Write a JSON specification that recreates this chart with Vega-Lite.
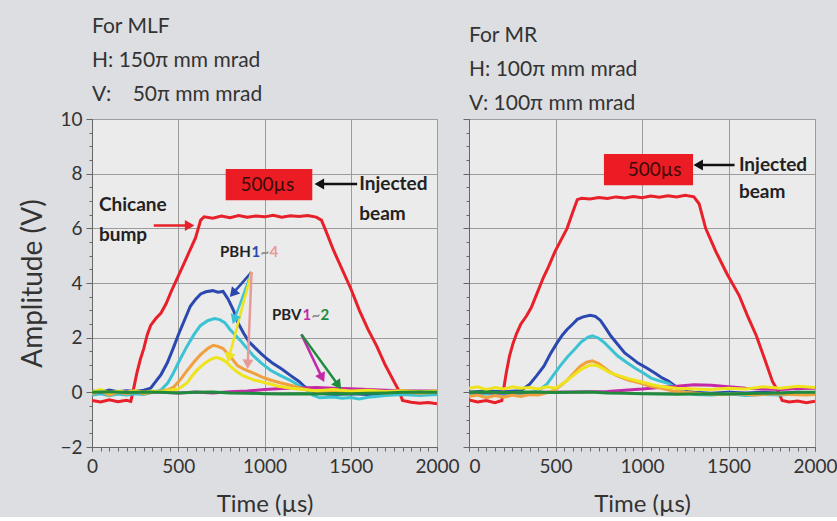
{
  "$schema": "https://vega.github.io/schema/vega-lite/v6.json",
  "background": "#dddee1",
  "padding": {"left": 19, "top": 15, "right": 0, "bottom": 0},
  "bounds": "flush",
  "spacing": 32,
  "config": {
    "view": {"fill": "#ebebeb", "stroke": "#8a8a8a", "strokeWidth": 1},
    "legend": {"disable": true},
    "font": "Lato",
    "axis": {"labelFont": "Lato", "labelFontSize": 19, "labelColor": "#333333", "titleFont": "Lato", "titleFontWeight": "normal", "titleColor": "#333333", "domainColor": "#666666", "tickColor": "#666666", "gridColor": "#9c9c9c", "labelFlush": false},
    "title": {"font": "Lato", "fontSize": 21, "fontWeight": "normal", "color": "#333333", "anchor": "start", "frame": "group", "lineHeight": 34, "offset": 5}
  },
  "datasets": {
    "mlfWave": [
      {"s":"Chicane bump","t":0,"v":-0.30},{"s":"Chicane bump","t":50,"v":-0.35},{"s":"Chicane bump","t":100,"v":-0.27},{"s":"Chicane bump","t":150,"v":-0.34},{"s":"Chicane bump","t":200,"v":-0.29},{"s":"Chicane bump","t":225,"v":-0.33},{"s":"Chicane bump","t":240,"v":0.1},{"s":"Chicane bump","t":260,"v":0.7},{"s":"Chicane bump","t":280,"v":1.2},{"s":"Chicane bump","t":300,"v":1.6},{"s":"Chicane bump","t":320,"v":2.1},{"s":"Chicane bump","t":340,"v":2.45},{"s":"Chicane bump","t":370,"v":2.7},{"s":"Chicane bump","t":400,"v":2.9},{"s":"Chicane bump","t":430,"v":3.25},{"s":"Chicane bump","t":460,"v":3.7},{"s":"Chicane bump","t":500,"v":4.25},{"s":"Chicane bump","t":550,"v":4.95},{"s":"Chicane bump","t":600,"v":5.65},{"s":"Chicane bump","t":630,"v":6.3},{"s":"Chicane bump","t":650,"v":6.42},{"s":"Chicane bump","t":700,"v":6.37},{"s":"Chicane bump","t":750,"v":6.45},{"s":"Chicane bump","t":800,"v":6.39},{"s":"Chicane bump","t":850,"v":6.47},{"s":"Chicane bump","t":900,"v":6.41},{"s":"Chicane bump","t":950,"v":6.45},{"s":"Chicane bump","t":1000,"v":6.42},{"s":"Chicane bump","t":1050,"v":6.48},{"s":"Chicane bump","t":1100,"v":6.41},{"s":"Chicane bump","t":1150,"v":6.46},{"s":"Chicane bump","t":1200,"v":6.43},{"s":"Chicane bump","t":1250,"v":6.47},{"s":"Chicane bump","t":1300,"v":6.41},{"s":"Chicane bump","t":1330,"v":6.3},{"s":"Chicane bump","t":1350,"v":6.0},{"s":"Chicane bump","t":1400,"v":5.2},{"s":"Chicane bump","t":1450,"v":4.5},{"s":"Chicane bump","t":1500,"v":3.8},{"s":"Chicane bump","t":1550,"v":3.0},{"s":"Chicane bump","t":1600,"v":2.3},{"s":"Chicane bump","t":1650,"v":1.7},{"s":"Chicane bump","t":1700,"v":1.0},{"s":"Chicane bump","t":1750,"v":0.4},{"s":"Chicane bump","t":1780,"v":0.05},{"s":"Chicane bump","t":1800,"v":-0.3},{"s":"Chicane bump","t":1850,"v":-0.36},{"s":"Chicane bump","t":1900,"v":-0.4},{"s":"Chicane bump","t":1950,"v":-0.37},{"s":"Chicane bump","t":2000,"v":-0.42},
      {"s":"PBH1","t":0,"v":0.05},{"s":"PBH1","t":50,"v":0.0},{"s":"PBH1","t":100,"v":0.08},{"s":"PBH1","t":150,"v":0.02},{"s":"PBH1","t":200,"v":0.06},{"s":"PBH1","t":250,"v":0.03},{"s":"PBH1","t":300,"v":0.08},{"s":"PBH1","t":340,"v":0.15},{"s":"PBH1","t":370,"v":0.4},{"s":"PBH1","t":400,"v":0.65},{"s":"PBH1","t":436,"v":1.07},{"s":"PBH1","t":470,"v":1.6},{"s":"PBH1","t":500,"v":2.1},{"s":"PBH1","t":540,"v":2.7},{"s":"PBH1","t":570,"v":3.15},{"s":"PBH1","t":600,"v":3.4},{"s":"PBH1","t":630,"v":3.6},{"s":"PBH1","t":660,"v":3.68},{"s":"PBH1","t":700,"v":3.72},{"s":"PBH1","t":730,"v":3.66},{"s":"PBH1","t":760,"v":3.69},{"s":"PBH1","t":790,"v":3.4},{"s":"PBH1","t":820,"v":3.0},{"s":"PBH1","t":850,"v":2.5},{"s":"PBH1","t":880,"v":2.15},{"s":"PBH1","t":910,"v":1.85},{"s":"PBH1","t":950,"v":1.6},{"s":"PBH1","t":980,"v":1.42},{"s":"PBH1","t":1020,"v":1.2},{"s":"PBH1","t":1050,"v":1.05},{"s":"PBH1","t":1100,"v":0.85},{"s":"PBH1","t":1150,"v":0.62},{"s":"PBH1","t":1200,"v":0.4},{"s":"PBH1","t":1230,"v":0.22},{"s":"PBH1","t":1260,"v":0.08},{"s":"PBH1","t":1300,"v":0.0},{"s":"PBH1","t":1350,"v":-0.05},{"s":"PBH1","t":1400,"v":-0.08},{"s":"PBH1","t":1500,"v":-0.05},{"s":"PBH1","t":1600,"v":-0.08},{"s":"PBH1","t":1700,"v":-0.03},{"s":"PBH1","t":1800,"v":-0.05},{"s":"PBH1","t":1900,"v":0.0},{"s":"PBH1","t":2000,"v":-0.03},
      {"s":"PBH2","t":0,"v":-0.1},{"s":"PBH2","t":50,"v":-0.05},{"s":"PBH2","t":100,"v":-0.12},{"s":"PBH2","t":150,"v":-0.06},{"s":"PBH2","t":200,"v":-0.1},{"s":"PBH2","t":250,"v":-0.05},{"s":"PBH2","t":300,"v":-0.08},{"s":"PBH2","t":350,"v":0.0},{"s":"PBH2","t":400,"v":0.08},{"s":"PBH2","t":440,"v":0.35},{"s":"PBH2","t":471,"v":0.7},{"s":"PBH2","t":510,"v":1.2},{"s":"PBH2","t":552,"v":1.7},{"s":"PBH2","t":590,"v":2.1},{"s":"PBH2","t":628,"v":2.44},{"s":"PBH2","t":670,"v":2.62},{"s":"PBH2","t":710,"v":2.7},{"s":"PBH2","t":740,"v":2.66},{"s":"PBH2","t":770,"v":2.55},{"s":"PBH2","t":800,"v":2.3},{"s":"PBH2","t":830,"v":2.1},{"s":"PBH2","t":860,"v":1.9},{"s":"PBH2","t":900,"v":1.6},{"s":"PBH2","t":936,"v":1.33},{"s":"PBH2","t":980,"v":1.08},{"s":"PBH2","t":1035,"v":0.81},{"s":"PBH2","t":1090,"v":0.62},{"s":"PBH2","t":1150,"v":0.44},{"s":"PBH2","t":1200,"v":0.25},{"s":"PBH2","t":1240,"v":0.1},{"s":"PBH2","t":1280,"v":-0.1},{"s":"PBH2","t":1320,"v":-0.2},{"s":"PBH2","t":1400,"v":-0.17},{"s":"PBH2","t":1450,"v":-0.22},{"s":"PBH2","t":1500,"v":-0.19},{"s":"PBH2","t":1550,"v":-0.24},{"s":"PBH2","t":1600,"v":-0.18},{"s":"PBH2","t":1650,"v":-0.15},{"s":"PBH2","t":1700,"v":-0.12},{"s":"PBH2","t":1800,"v":-0.08},{"s":"PBH2","t":1900,"v":-0.12},{"s":"PBH2","t":2000,"v":-0.08},
      {"s":"PBV1","t":0,"v":0.0},{"s":"PBV1","t":100,"v":0.02},{"s":"PBV1","t":200,"v":0.0},{"s":"PBV1","t":300,"v":0.02},{"s":"PBV1","t":400,"v":0.0},{"s":"PBV1","t":500,"v":-0.02},{"s":"PBV1","t":600,"v":0.01},{"s":"PBV1","t":700,"v":-0.02},{"s":"PBV1","t":800,"v":0.02},{"s":"PBV1","t":900,"v":0.05},{"s":"PBV1","t":1000,"v":0.1},{"s":"PBV1","t":1100,"v":0.14},{"s":"PBV1","t":1200,"v":0.16},{"s":"PBV1","t":1300,"v":0.18},{"s":"PBV1","t":1400,"v":0.15},{"s":"PBV1","t":1500,"v":0.13},{"s":"PBV1","t":1600,"v":0.1},{"s":"PBV1","t":1700,"v":0.08},{"s":"PBV1","t":1800,"v":0.06},{"s":"PBV1","t":1900,"v":0.05},{"s":"PBV1","t":2000,"v":0.05},
      {"s":"PBH4","t":0,"v":-0.05},{"s":"PBH4","t":50,"v":0.05},{"s":"PBH4","t":100,"v":-0.1},{"s":"PBH4","t":150,"v":0.0},{"s":"PBH4","t":200,"v":-0.05},{"s":"PBH4","t":250,"v":0.02},{"s":"PBH4","t":300,"v":-0.05},{"s":"PBH4","t":350,"v":0.0},{"s":"PBH4","t":400,"v":0.05},{"s":"PBH4","t":440,"v":0.1},{"s":"PBH4","t":471,"v":0.18},{"s":"PBH4","t":510,"v":0.45},{"s":"PBH4","t":552,"v":0.8},{"s":"PBH4","t":590,"v":1.1},{"s":"PBH4","t":628,"v":1.37},{"s":"PBH4","t":670,"v":1.6},{"s":"PBH4","t":703,"v":1.72},{"s":"PBH4","t":730,"v":1.68},{"s":"PBH4","t":760,"v":1.6},{"s":"PBH4","t":785,"v":1.42},{"s":"PBH4","t":815,"v":1.2},{"s":"PBH4","t":843,"v":0.98},{"s":"PBH4","t":880,"v":0.85},{"s":"PBH4","t":936,"v":0.7},{"s":"PBH4","t":990,"v":0.55},{"s":"PBH4","t":1035,"v":0.45},{"s":"PBH4","t":1090,"v":0.35},{"s":"PBH4","t":1150,"v":0.26},{"s":"PBH4","t":1210,"v":0.15},{"s":"PBH4","t":1267,"v":0.07},{"s":"PBH4","t":1320,"v":0.02},{"s":"PBH4","t":1400,"v":0.05},{"s":"PBH4","t":1500,"v":0.0},{"s":"PBH4","t":1600,"v":0.03},{"s":"PBH4","t":1700,"v":-0.02},{"s":"PBH4","t":1800,"v":0.02},{"s":"PBH4","t":1900,"v":-0.03},{"s":"PBH4","t":2000,"v":0.0},
      {"s":"PBH3","t":0,"v":0.02},{"s":"PBH3","t":50,"v":0.1},{"s":"PBH3","t":100,"v":-0.02},{"s":"PBH3","t":150,"v":0.05},{"s":"PBH3","t":200,"v":0.0},{"s":"PBH3","t":250,"v":0.06},{"s":"PBH3","t":300,"v":0.0},{"s":"PBH3","t":350,"v":0.05},{"s":"PBH3","t":400,"v":0.02},{"s":"PBH3","t":450,"v":0.08},{"s":"PBH3","t":500,"v":0.12},{"s":"PBH3","t":552,"v":0.35},{"s":"PBH3","t":580,"v":0.6},{"s":"PBH3","t":610,"v":0.82},{"s":"PBH3","t":650,"v":1.05},{"s":"PBH3","t":686,"v":1.2},{"s":"PBH3","t":720,"v":1.28},{"s":"PBH3","t":750,"v":1.22},{"s":"PBH3","t":780,"v":1.1},{"s":"PBH3","t":802,"v":0.96},{"s":"PBH3","t":840,"v":0.75},{"s":"PBH3","t":878,"v":0.6},{"s":"PBH3","t":940,"v":0.45},{"s":"PBH3","t":1017,"v":0.33},{"s":"PBH3","t":1080,"v":0.22},{"s":"PBH3","t":1151,"v":0.15},{"s":"PBH3","t":1220,"v":0.1},{"s":"PBH3","t":1300,"v":0.06},{"s":"PBH3","t":1400,"v":0.1},{"s":"PBH3","t":1500,"v":0.05},{"s":"PBH3","t":1600,"v":0.08},{"s":"PBH3","t":1700,"v":0.03},{"s":"PBH3","t":1800,"v":0.06},{"s":"PBH3","t":1900,"v":0.02},{"s":"PBH3","t":2000,"v":0.05},
      {"s":"PBV2","t":0,"v":0.0},{"s":"PBV2","t":100,"v":0.02},{"s":"PBV2","t":200,"v":-0.01},{"s":"PBV2","t":300,"v":0.01},{"s":"PBV2","t":400,"v":0.0},{"s":"PBV2","t":500,"v":-0.02},{"s":"PBV2","t":600,"v":0.0},{"s":"PBV2","t":700,"v":0.01},{"s":"PBV2","t":800,"v":-0.02},{"s":"PBV2","t":900,"v":-0.03},{"s":"PBV2","t":1000,"v":-0.05},{"s":"PBV2","t":1100,"v":-0.06},{"s":"PBV2","t":1200,"v":-0.05},{"s":"PBV2","t":1300,"v":-0.06},{"s":"PBV2","t":1400,"v":-0.04},{"s":"PBV2","t":1500,"v":-0.05},{"s":"PBV2","t":1600,"v":-0.03},{"s":"PBV2","t":1700,"v":-0.02},{"s":"PBV2","t":1800,"v":0.0},{"s":"PBV2","t":1900,"v":0.01},{"s":"PBV2","t":2000,"v":0.0}
    ],
    "mrWave": [
      {"s":"Chicane bump","t":0,"v":-0.28},{"s":"Chicane bump","t":50,"v":-0.35},{"s":"Chicane bump","t":100,"v":-0.3},{"s":"Chicane bump","t":150,"v":-0.38},{"s":"Chicane bump","t":190,"v":-0.3},{"s":"Chicane bump","t":200,"v":0.1},{"s":"Chicane bump","t":215,"v":0.7},{"s":"Chicane bump","t":234,"v":1.33},{"s":"Chicane bump","t":255,"v":1.8},{"s":"Chicane bump","t":275,"v":2.15},{"s":"Chicane bump","t":300,"v":2.5},{"s":"Chicane bump","t":333,"v":2.8},{"s":"Chicane bump","t":360,"v":3.1},{"s":"Chicane bump","t":392,"v":3.6},{"s":"Chicane bump","t":430,"v":4.2},{"s":"Chicane bump","t":460,"v":4.6},{"s":"Chicane bump","t":497,"v":5.15},{"s":"Chicane bump","t":530,"v":5.55},{"s":"Chicane bump","t":567,"v":6.0},{"s":"Chicane bump","t":600,"v":6.6},{"s":"Chicane bump","t":626,"v":7.05},{"s":"Chicane bump","t":650,"v":7.1},{"s":"Chicane bump","t":700,"v":7.07},{"s":"Chicane bump","t":750,"v":7.13},{"s":"Chicane bump","t":800,"v":7.09},{"s":"Chicane bump","t":850,"v":7.15},{"s":"Chicane bump","t":900,"v":7.11},{"s":"Chicane bump","t":950,"v":7.16},{"s":"Chicane bump","t":1000,"v":7.12},{"s":"Chicane bump","t":1050,"v":7.18},{"s":"Chicane bump","t":1100,"v":7.14},{"s":"Chicane bump","t":1150,"v":7.19},{"s":"Chicane bump","t":1200,"v":7.15},{"s":"Chicane bump","t":1250,"v":7.21},{"s":"Chicane bump","t":1300,"v":7.15},{"s":"Chicane bump","t":1330,"v":6.9},{"s":"Chicane bump","t":1368,"v":6.0},{"s":"Chicane bump","t":1427,"v":5.15},{"s":"Chicane bump","t":1490,"v":4.35},{"s":"Chicane bump","t":1561,"v":3.55},{"s":"Chicane bump","t":1610,"v":2.8},{"s":"Chicane bump","t":1661,"v":2.07},{"s":"Chicane bump","t":1710,"v":1.2},{"s":"Chicane bump","t":1754,"v":0.4},{"s":"Chicane bump","t":1790,"v":0.0},{"s":"Chicane bump","t":1810,"v":-0.3},{"s":"Chicane bump","t":1850,"v":-0.35},{"s":"Chicane bump","t":1900,"v":-0.32},{"s":"Chicane bump","t":1950,"v":-0.38},{"s":"Chicane bump","t":2000,"v":-0.33},
      {"s":"PBH1","t":0,"v":0.0},{"s":"PBH1","t":100,"v":0.05},{"s":"PBH1","t":200,"v":0.02},{"s":"PBH1","t":300,"v":0.06},{"s":"PBH1","t":351,"v":0.3},{"s":"PBH1","t":390,"v":0.6},{"s":"PBH1","t":433,"v":0.96},{"s":"PBH1","t":470,"v":1.4},{"s":"PBH1","t":509,"v":1.81},{"s":"PBH1","t":540,"v":2.1},{"s":"PBH1","t":567,"v":2.3},{"s":"PBH1","t":600,"v":2.5},{"s":"PBH1","t":626,"v":2.67},{"s":"PBH1","t":660,"v":2.76},{"s":"PBH1","t":700,"v":2.82},{"s":"PBH1","t":730,"v":2.78},{"s":"PBH1","t":760,"v":2.63},{"s":"PBH1","t":790,"v":2.35},{"s":"PBH1","t":819,"v":2.07},{"s":"PBH1","t":860,"v":1.75},{"s":"PBH1","t":900,"v":1.44},{"s":"PBH1","t":940,"v":1.25},{"s":"PBH1","t":977,"v":1.07},{"s":"PBH1","t":1030,"v":0.88},{"s":"PBH1","t":1076,"v":0.7},{"s":"PBH1","t":1110,"v":0.55},{"s":"PBH1","t":1152,"v":0.41},{"s":"PBH1","t":1193,"v":0.22},{"s":"PBH1","t":1230,"v":0.05},{"s":"PBH1","t":1300,"v":0.0},{"s":"PBH1","t":1400,"v":-0.03},{"s":"PBH1","t":1500,"v":0.0},{"s":"PBH1","t":1600,"v":-0.02},{"s":"PBH1","t":1700,"v":0.0},{"s":"PBH1","t":1800,"v":-0.03},{"s":"PBH1","t":1900,"v":0.0},{"s":"PBH1","t":2000,"v":-0.02},
      {"s":"PBH2","t":0,"v":-0.1},{"s":"PBH2","t":100,"v":-0.05},{"s":"PBH2","t":200,"v":-0.1},{"s":"PBH2","t":300,"v":-0.05},{"s":"PBH2","t":400,"v":0.05},{"s":"PBH2","t":450,"v":0.3},{"s":"PBH2","t":490,"v":0.65},{"s":"PBH2","t":526,"v":0.96},{"s":"PBH2","t":570,"v":1.3},{"s":"PBH2","t":608,"v":1.56},{"s":"PBH2","t":650,"v":1.85},{"s":"PBH2","t":690,"v":2.02},{"s":"PBH2","t":713,"v":2.07},{"s":"PBH2","t":750,"v":1.98},{"s":"PBH2","t":784,"v":1.81},{"s":"PBH2","t":820,"v":1.58},{"s":"PBH2","t":860,"v":1.33},{"s":"PBH2","t":910,"v":1.1},{"s":"PBH2","t":959,"v":0.89},{"s":"PBH2","t":1010,"v":0.7},{"s":"PBH2","t":1053,"v":0.52},{"s":"PBH2","t":1100,"v":0.42},{"s":"PBH2","t":1152,"v":0.33},{"s":"PBH2","t":1200,"v":0.15},{"s":"PBH2","t":1250,"v":0.0},{"s":"PBH2","t":1300,"v":-0.08},{"s":"PBH2","t":1400,"v":-0.1},{"s":"PBH2","t":1500,"v":-0.05},{"s":"PBH2","t":1600,"v":-0.12},{"s":"PBH2","t":1700,"v":-0.08},{"s":"PBH2","t":1800,"v":-0.1},{"s":"PBH2","t":1900,"v":-0.05},{"s":"PBH2","t":2000,"v":-0.08},
      {"s":"PBV1","t":0,"v":0.0},{"s":"PBV1","t":200,"v":-0.02},{"s":"PBV1","t":400,"v":0.0},{"s":"PBV1","t":600,"v":0.01},{"s":"PBV1","t":800,"v":0.03},{"s":"PBV1","t":900,"v":0.08},{"s":"PBV1","t":1000,"v":0.12},{"s":"PBV1","t":1100,"v":0.18},{"s":"PBV1","t":1200,"v":0.22},{"s":"PBV1","t":1300,"v":0.28},{"s":"PBV1","t":1400,"v":0.26},{"s":"PBV1","t":1500,"v":0.2},{"s":"PBV1","t":1600,"v":0.15},{"s":"PBV1","t":1700,"v":0.12},{"s":"PBV1","t":1800,"v":0.1},{"s":"PBV1","t":1900,"v":0.14},{"s":"PBV1","t":2000,"v":0.15},
      {"s":"PBH4","t":0,"v":-0.15},{"s":"PBH4","t":50,"v":-0.1},{"s":"PBH4","t":100,"v":-0.2},{"s":"PBH4","t":150,"v":-0.12},{"s":"PBH4","t":200,"v":-0.18},{"s":"PBH4","t":250,"v":-0.1},{"s":"PBH4","t":300,"v":-0.15},{"s":"PBH4","t":350,"v":-0.08},{"s":"PBH4","t":400,"v":-0.1},{"s":"PBH4","t":450,"v":-0.02},{"s":"PBH4","t":491,"v":0.07},{"s":"PBH4","t":530,"v":0.25},{"s":"PBH4","t":567,"v":0.44},{"s":"PBH4","t":605,"v":0.7},{"s":"PBH4","t":643,"v":0.96},{"s":"PBH4","t":680,"v":1.1},{"s":"PBH4","t":713,"v":1.15},{"s":"PBH4","t":750,"v":1.05},{"s":"PBH4","t":784,"v":0.89},{"s":"PBH4","t":820,"v":0.72},{"s":"PBH4","t":860,"v":0.59},{"s":"PBH4","t":920,"v":0.45},{"s":"PBH4","t":994,"v":0.33},{"s":"PBH4","t":1050,"v":0.22},{"s":"PBH4","t":1111,"v":0.15},{"s":"PBH4","t":1180,"v":0.05},{"s":"PBH4","t":1250,"v":0.0},{"s":"PBH4","t":1350,"v":-0.05},{"s":"PBH4","t":1450,"v":-0.08},{"s":"PBH4","t":1550,"v":-0.05},{"s":"PBH4","t":1650,"v":-0.1},{"s":"PBH4","t":1750,"v":-0.05},{"s":"PBH4","t":1850,"v":-0.08},{"s":"PBH4","t":1950,"v":-0.1},{"s":"PBH4","t":2000,"v":-0.08},
      {"s":"PBH3","t":0,"v":0.15},{"s":"PBH3","t":50,"v":0.2},{"s":"PBH3","t":100,"v":0.1},{"s":"PBH3","t":150,"v":0.18},{"s":"PBH3","t":200,"v":0.12},{"s":"PBH3","t":250,"v":0.2},{"s":"PBH3","t":300,"v":0.15},{"s":"PBH3","t":350,"v":0.18},{"s":"PBH3","t":400,"v":0.12},{"s":"PBH3","t":450,"v":0.2},{"s":"PBH3","t":500,"v":0.15},{"s":"PBH3","t":550,"v":0.35},{"s":"PBH3","t":600,"v":0.6},{"s":"PBH3","t":650,"v":0.85},{"s":"PBH3","t":700,"v":1.0},{"s":"PBH3","t":740,"v":0.98},{"s":"PBH3","t":780,"v":0.85},{"s":"PBH3","t":820,"v":0.7},{"s":"PBH3","t":870,"v":0.6},{"s":"PBH3","t":920,"v":0.5},{"s":"PBH3","t":959,"v":0.44},{"s":"PBH3","t":1010,"v":0.36},{"s":"PBH3","t":1060,"v":0.28},{"s":"PBH3","t":1120,"v":0.2},{"s":"PBH3","t":1200,"v":0.15},{"s":"PBH3","t":1300,"v":0.12},{"s":"PBH3","t":1400,"v":0.1},{"s":"PBH3","t":1500,"v":0.15},{"s":"PBH3","t":1600,"v":0.12},{"s":"PBH3","t":1700,"v":0.2},{"s":"PBH3","t":1800,"v":0.15},{"s":"PBH3","t":1900,"v":0.22},{"s":"PBH3","t":2000,"v":0.18},
      {"s":"PBV2","t":0,"v":0.0},{"s":"PBV2","t":100,"v":0.01},{"s":"PBV2","t":200,"v":-0.01},{"s":"PBV2","t":300,"v":0.01},{"s":"PBV2","t":400,"v":0.0},{"s":"PBV2","t":500,"v":-0.01},{"s":"PBV2","t":600,"v":0.0},{"s":"PBV2","t":700,"v":0.01},{"s":"PBV2","t":800,"v":-0.02},{"s":"PBV2","t":900,"v":-0.03},{"s":"PBV2","t":1000,"v":-0.05},{"s":"PBV2","t":1100,"v":-0.06},{"s":"PBV2","t":1200,"v":-0.07},{"s":"PBV2","t":1300,"v":-0.06},{"s":"PBV2","t":1400,"v":-0.05},{"s":"PBV2","t":1500,"v":-0.06},{"s":"PBV2","t":1600,"v":-0.04},{"s":"PBV2","t":1700,"v":-0.03},{"s":"PBV2","t":1800,"v":-0.02},{"s":"PBV2","t":1900,"v":0.0},{"s":"PBV2","t":2000,"v":0.0}
    ],
    "mlfBox": [{"t1":775,"t2":1277,"v1":7.03,"v2":8.17}],
    "mrBox": [{"t1":780,"t2":1295,"v1":7.58,"v2":8.72}],
    "mlfArrows": [
      {"k":1,"s":"Chicane bump","t":358,"v":6.1,"t2":566,"v2":6.1},
      {"k":2,"s":"arrow","t":1537,"v":7.62,"t2":1318,"v2":7.62},
      {"k":3,"s":"PBH1","t":925,"v":4.4,"t2":817,"v2":3.62},
      {"k":4,"s":"PBH2","t":925,"v":4.4,"t2":825,"v2":2.66},
      {"k":5,"s":"PBH3","t":925,"v":4.4,"t2":794,"v2":1.27},
      {"k":6,"s":"PBH4 arrow","t":925,"v":4.4,"t2":903,"v2":1.03},
      {"k":7,"s":"PBV1","t":1214,"v":2.12,"t2":1334,"v2":0.53},
      {"k":8,"s":"PBV2","t":1214,"v":2.12,"t2":1428,"v2":0.26}
    ],
    "mrArrows": [
      {"k":2,"s":"arrow","t":1535,"v":8.32,"t2":1325,"v2":8.32}
    ],
    "mlfText": [
      {"g":"box","s":"boxtext","t":861,"v":7.6,"text":"500µs"},
      {"g":"note","s":"label","t":40,"v":6.85,"text":"Chicane"},
      {"g":"note","s":"label","t":40,"v":5.75,"text":"bump"},
      {"g":"note","s":"label","t":1549,"v":7.62,"text":"Injected"},
      {"g":"note","s":"label","t":1549,"v":6.52,"text":"beam"},
      {"g":"tag","s":"label","t":742,"v":5.13,"text":"PBH"},
      {"g":"tag","s":"PBH1","t":925,"v":5.13,"text":"1"},
      {"g":"tag","s":"tilde","t":977,"v":5.13,"text":"~"},
      {"g":"tag","s":"PBH4 arrow","t":1029,"v":5.13,"text":"4"},
      {"g":"tag","s":"label","t":1044,"v":2.82,"text":"PBV"},
      {"g":"tag","s":"PBV1","t":1221,"v":2.82,"text":"1"},
      {"g":"tag","s":"tilde","t":1273,"v":2.82,"text":"~"},
      {"g":"tag","s":"PBV2","t":1325,"v":2.82,"text":"2"}
    ],
    "mrText": [
      {"g":"box","s":"boxtext","t":918,"v":8.15,"text":"500µs"},
      {"g":"note","s":"label","t":1560,"v":8.32,"text":"Injected"},
      {"g":"note","s":"label","t":1560,"v":7.33,"text":"beam"}
    ]
  },
  "hconcat": [
    {
      "width": 345,
      "height": 328,
      "title": {"text": ["For MLF", "H: 150π mm mrad", "V:\u00a0\u00a0\u00a0\u00a050π mm mrad"]},
      "resolve": {"axis": {"x": "independent", "y": "independent"}},
      "layer": [
        {
          "data": {"name": "mlfWave"},
          "mark": {"type": "line", "strokeWidth": 3, "clip": true},
          "encoding": {
            "x": {"field": "t", "type": "quantitative", "title": "Time (µs)", "scale": {"domain": [0, 2000], "nice": false},
              "axis": {"orient": "bottom", "values": [0,500,1000,1500,2000], "format": "d", "tickSize": 4, "labelPadding": 6, "titleFontSize": 24, "titlePadding": 16}},
            "y": {"field": "v", "type": "quantitative", "title": "Amplitude (V)", "scale": {"domain": [-2, 10], "nice": false},
              "axis": {"orient": "left", "values": [-2,0,2,4,6,8,10], "tickSize": 6, "labelPadding": 4, "titleFontSize": 28, "titlePadding": 12}},
            "color": {"field": "s", "type": "nominal", "legend": null,
              "scale": {"domain": ["Chicane bump","PBH1","PBH2","PBV1","PBH4","PBH3","PBV2","arrow","PBH4 arrow","label","tilde","boxtext"],
                        "range": ["#e8202a","#2b48b0","#3cc3d3","#c42aa8","#f0a03c","#eee31c","#1f8b3e","#111111","#e89a98","#222222","#8a8a8a","#3a0a0a"]}}
          }
        },
        {
          "data": {"name": "mlfBox"},
          "mark": {"type": "rect", "color": "#ec1c24"},
          "encoding": {
            "x": {"field": "t1", "type": "quantitative", "axis": null},
            "x2": {"field": "t2"},
            "y": {"field": "v1", "type": "quantitative", "axis": null},
            "y2": {"field": "v2"}
          }
        },
        {
          "data": {"name": "mlfArrows"},
          "mark": {"type": "rule", "strokeWidth": 2.5},
          "encoding": {
            "x": {"field": "t", "type": "quantitative", "title": null,
              "axis": {"orient": "bottom", "values": [0,50,100,150,200,250,300,350,400,450,500,550,600,650,700,750,800,850,900,950,1000,1050,1100,1150,1200,1250,1300,1350,1400,1450,1500,1550,1600,1650,1700,1750,1800,1850,1900,1950,2000], "labels": false, "grid": false, "domain": false, "tickSize": 4}},
            "x2": {"field": "t2"},
            "y": {"field": "v", "type": "quantitative", "title": null,
              "axis": {"orient": "left", "values": [-2,-1.5,-1,-0.5,0,0.5,1,1.5,2,2.5,3,3.5,4,4.5,5,5.5,6,6.5,7,7.5,8,8.5,9,9.5,10], "labels": false, "grid": false, "domain": false, "tickSize": 3}},
            "y2": {"field": "v2"},
            "color": {"field": "s", "type": "nominal", "legend": null}
          }
        },
        {
          "data": {"name": "mlfArrows"},
          "mark": {"type": "point", "shape": "triangle-up", "filled": true, "size": 120, "opacity": 1},
          "encoding": {
            "x": {"field": "t2", "type": "quantitative", "axis": null},
            "y": {"field": "v2", "type": "quantitative", "axis": null},
            "color": {"field": "s", "type": "nominal", "legend": null},
            "angle": {"field": "k", "type": "quantitative", "scale": {"type": "threshold", "domain": [1.5,2.5,3.5,4.5,5.5,6.5,7.5], "range": [90,270,221,200,195,182,154,144]}}
          }
        },
        {
          "data": {"name": "mlfText"},
          "transform": [{"filter": "datum.g === 'box'"}],
          "mark": {"type": "text", "align": "left", "baseline": "middle", "font": "Lato", "fontSize": 19},
          "encoding": {
            "x": {"field": "t", "type": "quantitative", "axis": null},
            "y": {"field": "v", "type": "quantitative", "axis": null},
            "text": {"field": "text"},
            "color": {"field": "s", "type": "nominal", "legend": null}
          }
        },
        {
          "data": {"name": "mlfText"},
          "transform": [{"filter": "datum.g === 'note'"}],
          "mark": {"type": "text", "align": "left", "baseline": "middle", "font": "Lato", "fontSize": 19, "fontWeight": "bold"},
          "encoding": {
            "x": {"field": "t", "type": "quantitative", "axis": null},
            "y": {"field": "v", "type": "quantitative", "axis": null},
            "text": {"field": "text"},
            "color": {"field": "s", "type": "nominal", "legend": null}
          }
        },
        {
          "data": {"name": "mlfText"},
          "transform": [{"filter": "datum.g === 'tag'"}],
          "mark": {"type": "text", "align": "left", "baseline": "middle", "font": "Lato", "fontSize": 15, "fontWeight": "bold"},
          "encoding": {
            "x": {"field": "t", "type": "quantitative", "axis": null},
            "y": {"field": "v", "type": "quantitative", "axis": null},
            "text": {"field": "text"},
            "color": {"field": "s", "type": "nominal", "legend": null}
          }
        }
      ]
    },
    {
      "width": 346,
      "height": 328,
      "title": {"text": ["For MR", "H: 100π mm mrad", "V: 100π mm mrad"]},
      "resolve": {"axis": {"x": "independent", "y": "independent"}},
      "layer": [
        {
          "data": {"name": "mrWave"},
          "mark": {"type": "line", "strokeWidth": 3, "clip": true},
          "encoding": {
            "x": {"field": "t", "type": "quantitative", "title": "Time (µs)", "scale": {"domain": [0, 2000], "nice": false},
              "axis": {"orient": "bottom", "values": [0,500,1000,1500,2000], "format": "d", "tickSize": 4, "labelPadding": 6, "titleFontSize": 24, "titlePadding": 16,
                "labelAlign": {"condition": {"test": "datum.value === 0", "value": "left"}, "value": "center"}}},
            "y": {"field": "v", "type": "quantitative", "title": null, "scale": {"domain": [-2, 10], "nice": false},
              "axis": {"orient": "left", "values": [-2,0,2,4,6,8,10], "labels": false, "tickSize": 6}},
            "color": {"field": "s", "type": "nominal", "legend": null,
              "scale": {"domain": ["Chicane bump","PBH1","PBH2","PBV1","PBH4","PBH3","PBV2","arrow","PBH4 arrow","label","tilde","boxtext"],
                        "range": ["#e8202a","#2b48b0","#3cc3d3","#c42aa8","#f0a03c","#eee31c","#1f8b3e","#111111","#e89a98","#222222","#8a8a8a","#3a0a0a"]}}
          }
        },
        {
          "data": {"name": "mrBox"},
          "mark": {"type": "rect", "color": "#ec1c24"},
          "encoding": {
            "x": {"field": "t1", "type": "quantitative", "axis": null},
            "x2": {"field": "t2"},
            "y": {"field": "v1", "type": "quantitative", "axis": null},
            "y2": {"field": "v2"}
          }
        },
        {
          "data": {"name": "mrArrows"},
          "mark": {"type": "rule", "strokeWidth": 2.5},
          "encoding": {
            "x": {"field": "t", "type": "quantitative", "title": null,
              "axis": {"orient": "bottom", "values": [0,50,100,150,200,250,300,350,400,450,500,550,600,650,700,750,800,850,900,950,1000,1050,1100,1150,1200,1250,1300,1350,1400,1450,1500,1550,1600,1650,1700,1750,1800,1850,1900,1950,2000], "labels": false, "grid": false, "domain": false, "tickSize": 4}},
            "x2": {"field": "t2"},
            "y": {"field": "v", "type": "quantitative", "title": null,
              "axis": {"orient": "left", "values": [-2,-1.5,-1,-0.5,0,0.5,1,1.5,2,2.5,3,3.5,4,4.5,5,5.5,6,6.5,7,7.5,8,8.5,9,9.5,10], "labels": false, "grid": false, "domain": false, "tickSize": 3}},
            "y2": {"field": "v2"},
            "color": {"field": "s", "type": "nominal", "legend": null}
          }
        },
        {
          "data": {"name": "mrArrows"},
          "mark": {"type": "point", "shape": "triangle-up", "filled": true, "size": 120, "opacity": 1},
          "encoding": {
            "x": {"field": "t2", "type": "quantitative", "axis": null},
            "y": {"field": "v2", "type": "quantitative", "axis": null},
            "color": {"field": "s", "type": "nominal", "legend": null},
            "angle": {"field": "k", "type": "quantitative", "scale": {"type": "threshold", "domain": [1.5,2.5,3.5,4.5,5.5,6.5,7.5], "range": [90,270,221,200,195,182,154,144]}}
          }
        },
        {
          "data": {"name": "mrText"},
          "transform": [{"filter": "datum.g === 'box'"}],
          "mark": {"type": "text", "align": "left", "baseline": "middle", "font": "Lato", "fontSize": 19},
          "encoding": {
            "x": {"field": "t", "type": "quantitative", "axis": null},
            "y": {"field": "v", "type": "quantitative", "axis": null},
            "text": {"field": "text"},
            "color": {"field": "s", "type": "nominal", "legend": null}
          }
        },
        {
          "data": {"name": "mrText"},
          "transform": [{"filter": "datum.g === 'note'"}],
          "mark": {"type": "text", "align": "left", "baseline": "middle", "font": "Lato", "fontSize": 19, "fontWeight": "bold"},
          "encoding": {
            "x": {"field": "t", "type": "quantitative", "axis": null},
            "y": {"field": "v", "type": "quantitative", "axis": null},
            "text": {"field": "text"},
            "color": {"field": "s", "type": "nominal", "legend": null}
          }
        }
      ]
    }
  ]
}
